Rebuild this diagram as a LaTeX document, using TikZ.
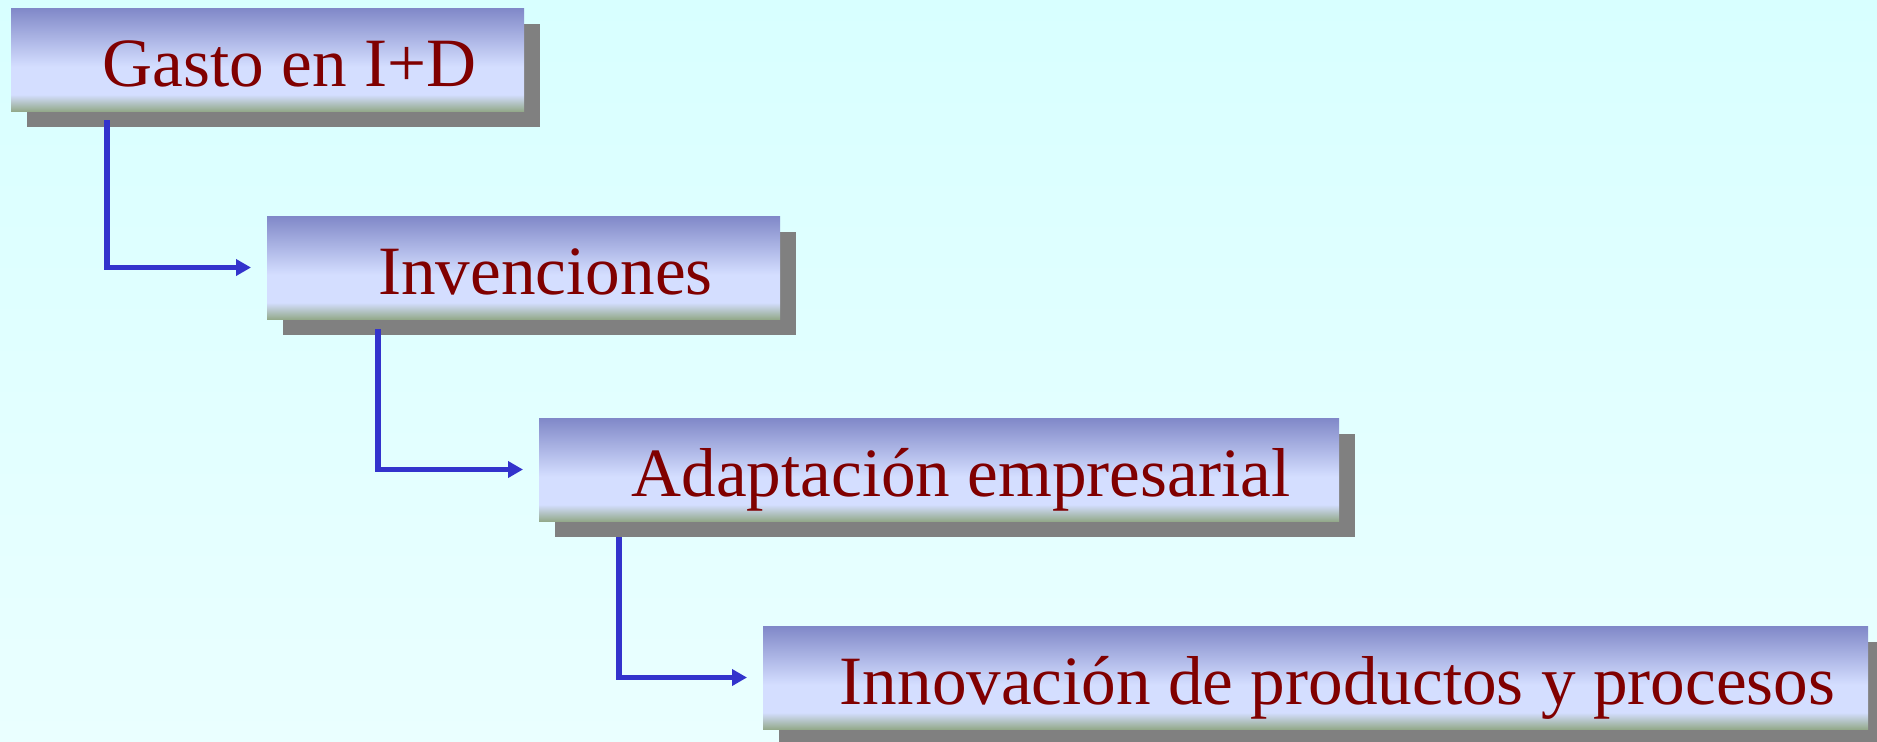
\documentclass[tikz,border=0pt]{standalone}
\usepackage{fontspec}
\setmainfont{Liberation Serif}
\usetikzlibrary{arrows.meta,shadows}

\definecolor{fondoarriba}{RGB}{216,255,255}
\definecolor{fondoabajo}{RGB}{234,255,255}
\definecolor{cajaarriba}{RGB}{128,136,200}
\definecolor{cajaclaro}{RGB}{212,222,255}
\definecolor{cajaabajo}{RGB}{148,170,140}
\definecolor{sombra}{RGB}{128,128,128}
\definecolor{rojotexto}{RGB}{128,0,0}
\definecolor{azulflecha}{RGB}{51,51,204}

% only 25bp--75bp is seen on the box
\pgfdeclareverticalshading{cajashade}{100bp}{%
  color(0bp)=(cajaabajo); color(25bp)=(cajaabajo); color(33bp)=(cajaclaro);
  color(46.5bp)=(cajaclaro); color(75bp)=(cajaarriba); color(100bp)=(cajaarriba)}

\tikzset{
  caja/.style={anchor=north west, inner sep=0pt, outer sep=0pt,
    minimum height=51.5pt, shading=cajashade,
    drop shadow={shadow xshift=8pt, shadow yshift=-8pt, fill=sombra, opacity=1},
    text=rojotexto, font=\fontsize{34.6}{40}\selectfont,
    text height=30pt, text depth=3.5pt},
  flecha/.style={azulflecha, line width=2.9pt, shorten >=8pt,
    -{Triangle[length=7.5pt,width=8pt]}}
}

\begin{document}
\begin{tikzpicture}[x=0.5pt,y=-0.5pt]
    \shade[top color=fondoarriba, bottom color=fondoabajo] (0,0) rectangle (1877,741);
    \useasboundingbox (0,0) rectangle (1877,741);

    % cajas
    \node[caja, minimum width=256.5pt] (gasto) at (11,8) {\hspace*{22pt}Gasto en I+D};
    \node[caja, minimum width=256.5pt] (invenciones) at (267,216) {\hspace*{22pt}Invenciones};
    \node[caja, minimum width=400pt] (adaptacion) at (539,418) {\hspace*{22pt}Adaptación empresarial};
    \node[caja, minimum width=552.5pt] (innovacion) at (763,626) {\hspace*{22pt}Innovación de productos y procesos};

    % flechas
    \draw[flecha] ([xshift=48pt,yshift=-4.5pt]gasto.south west) |- (invenciones.west);
    \draw[flecha] ([xshift=55.5pt,yshift=-5pt]invenciones.south west) |- (adaptacion.west);
    \draw[flecha] ([xshift=40pt,yshift=-8pt]adaptacion.south west) |- (innovacion.west);
\end{tikzpicture}
\end{document}
